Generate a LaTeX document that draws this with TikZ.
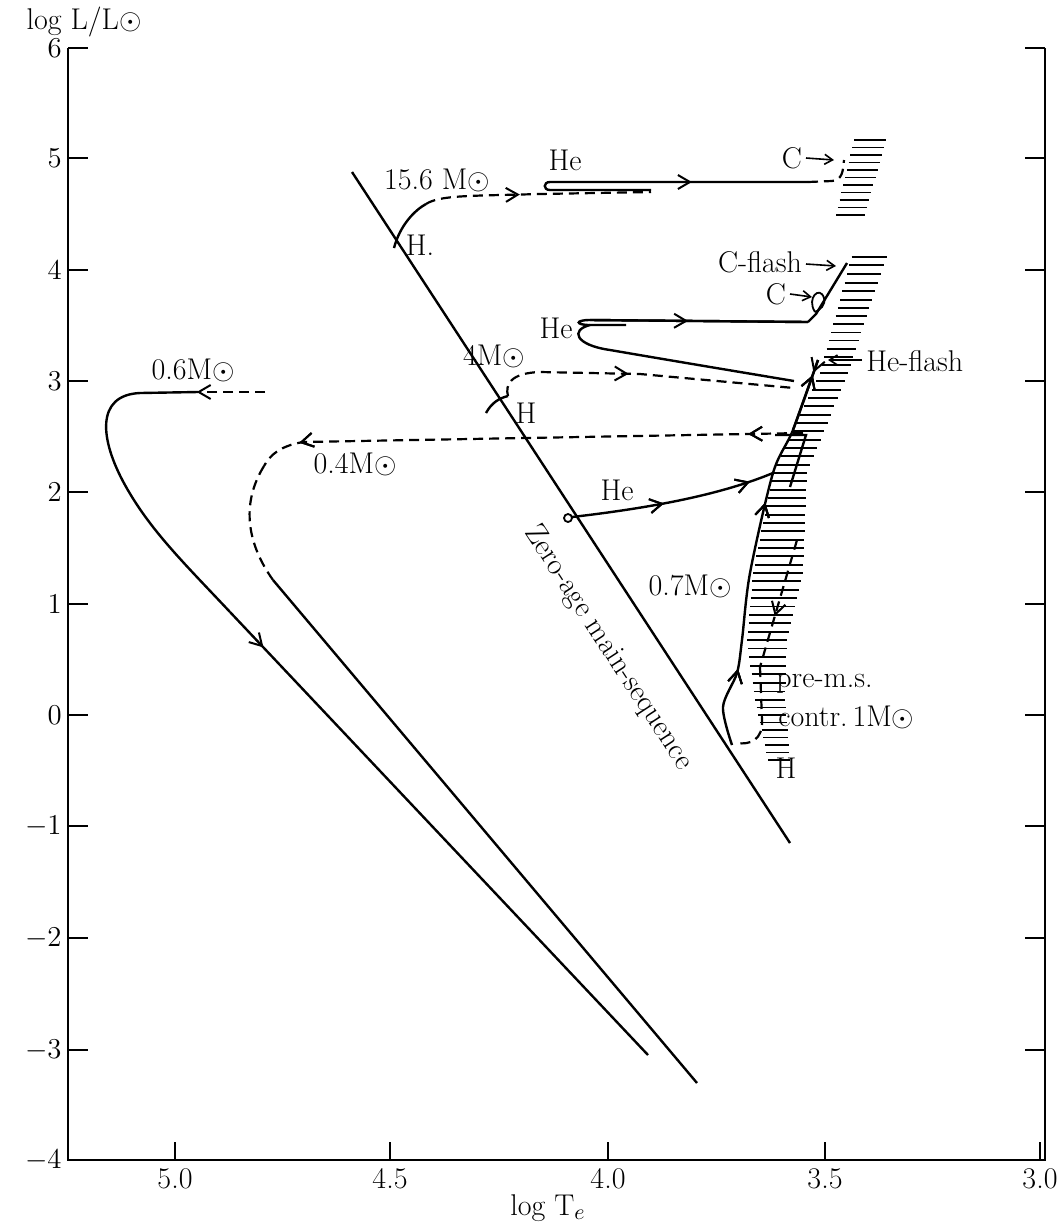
\documentclass[tikz,border=0pt]{standalone}
\usetikzlibrary{arrows.meta,decorations.markings}
\begin{document}
\begin{tikzpicture}[x=0.5pt,y=-0.5pt,
  trk/.style={line width=1.2pt},
  dsh/.style={line width=1.1pt,dash pattern=on 5pt off 3pt},
  hat/.style={line width=0.9pt},
  marrow/.style={postaction={decorate},decoration={markings,mark=at position #1 with {\arrow{Straight Barb[length=6pt,width=7pt,line width=1pt]}}}},
  lbl/.style={font=\fontsize{15}{17}\selectfont,inner sep=1pt},
  tck/.style={font=\fontsize{15}{17}\selectfont,inner sep=1pt}]
\useasboundingbox (0,0) rectangle (1063,1228);
% axes
\draw[line width=1pt] (68,48) -- (68,1160) -- (1045,1160) -- (1045,48);
\foreach \v/\y in {6/48,5/158,4/270,3/381,2/492,1/604,0/715,-1/826,-2/938,-3/1050,-4/1160}{
  \draw[line width=0.9pt] (68,\y) -- (88,\y);
  \draw[line width=0.9pt] (1045,\y) -- (1025,\y);
  \node[tck,anchor=east] (ty\y) at (64,\y) {$\v$};
}
\foreach \v/\x in {5.0/175,4.5/390,4.0/608,3.5/825,3.0/1040}{
  \draw[line width=0.9pt] (\x,1160) -- (\x,1142);
  \node[tck,anchor=north] (tx\x) at (\x,1166) {\v};
}
\node[lbl] (ylab) at (84,22) {log L/L$\odot$};
\node[lbl] (xlab) at (548,1208) {log T$_e$};
% ZAMS
\draw[trk] (352,172) -- (790,843);
\node[lbl,rotate=-56.9] (zams) at (608,648) {Zero-age main-sequence};
% 0.6 Msun
\node[lbl] (m06) at (193,370) {0.6M$\odot$};
\draw[dsh,marrow=0.99] (265,392) -- (196,392);
\draw[trk] (198,392) -- (140,393) .. controls (95,395) and (100,440) .. (125,485) .. controls (150,530) and (183,562) .. (230,612);
\draw[trk,marrow=0.08] (230,612) -- (648,1055);
% 0.4 Msun
\node[lbl] (m04) at (355,464) {0.4M$\odot$};
\draw[dsh,marrow=0.1,marrow=0.92] (803,433) -- (303,442) .. controls (280,446) and (270,455) .. (264,466);
\draw[dsh] (264,466) .. controls (240,505) and (248,545) .. (273,580);
\draw[trk] (273,580) -- (697,1083);
\draw[trk] (775,435) -- (806,435) -- (790,487);
% 15.6 Msun
\node[lbl] (m156) at (437,180) {15.6 M$\odot$};
\node[lbl] (h156) at (420,245) {H.};
\draw[trk] (394,248) .. controls (400,225) and (415,210) .. (426,204);
\draw[dsh,marrow=0.42] (426,204) .. controls (440,195) and (470,196) .. (540,194) -- (651,192);
\node[lbl] (he156) at (565,160) {He};
\draw[trk] (651,190) -- (550,190) .. controls (543,190) and (543,182) .. (550,182) -- (808,182);
\draw[trk,marrow=0.55] (550,182) -- (808,182);
\draw[dsh] (808,182) -- (832,181) .. controls (842,180) and (843,172) .. (844,160);
\node[lbl] (c156) at (792,158) {C};
\draw[line width=0.8pt,-{Straight Barb[length=4pt,width=5pt]}] (806,158) -- (834,160);
% 4 Msun
\node[lbl] (m4) at (494,356) {4M$\odot$};
\node[lbl] (h4) at (526,413) {H};
\draw[trk] (486,413) .. controls (492,402) and (500,398) .. (508,396);
\draw[dsh,marrow=0.45] (508,396) .. controls (505,385) and (510,373) .. (540,372) -- (640,374) -- (794,388);
\node[lbl] (he4) at (556,328) {He};
\draw[trk] (626,325) -- (590,325) .. controls (575,325) and (575,320) .. (590,320) -- (808,322);
\draw[trk,marrow=0.45] (590,320) -- (808,322);
\draw[trk] (590,325) .. controls (570,330) and (575,345) .. (610,350) .. controls (680,362) and (740,372) .. (794,381);
\draw[trk] (808,322) -- (816,314) -- (847,263);
\draw[line width=0.9pt] (815,312) .. controls (806,298) and (820,285) .. (824,298) .. controls (826,305) and (820,310) .. (815,312);
\node[lbl] (c4) at (776,294) {C};
\draw[line width=0.8pt,-{Straight Barb[length=4pt,width=5pt]}] (790,294) -- (812,297);
\node[lbl] (cflash) at (760,262) {C-flash};
\draw[line width=0.8pt,-{Straight Barb[length=4pt,width=5pt]}] (806,264) -- (836,266);
\node[lbl,anchor=west] (heflash) at (864,361) {He-flash};
\draw[line width=0.8pt,-{Straight Barb[length=4pt,width=5pt]}] (862,360) -- (828,360);
% 0.7 Msun
\node[lbl] (m07) at (690,586) {0.7M$\odot$};
\draw[trk,marrow=0.2,marrow=0.62,marrow=0.96] plot[smooth,tension=0.5] coordinates {(732,745) (723,707) (737,673) (742,640) (750,573) (773,473) (793,430) (818,360)};
\draw[trk,marrow=0.18] (818,360) -- (793,430);
\node[lbl] (he07) at (617,490) {He};
\draw[line width=0.9pt] (568,518) circle (4);
\draw[trk,marrow=0.45,marrow=0.88] (572,517) .. controls (650,508) and (720,495) .. (773,473);
% pre-ms 1 Msun
\draw[dsh,marrow=0.6] (797,540) -- (760,667);
\draw[dsh] (760,667) -- (762,720) .. controls (763,740) and (750,745) .. (737,743);
\node[lbl,anchor=west] (pms) at (774,684) {pre-m.s.};
\node[lbl,anchor=west] (contr) at (776,717) {contr.\,1M$\odot$};
\node[lbl] (h07) at (786,768) {H};
% hatching
\foreach \k in {0,...,10}{
  \draw[hat] ({854-1.8*\k},{140+7.5*\k}) -- ({886-2.1*\k},{140+7.5*\k});
}
\foreach \ya/\yb/\aa/\ab/\ba/\bb/\n in {248/300/854/840/890/872/6, 300/373/840/820/872/848/9, 373/473/820/773/848/807/12, 473/573/773/753/807/803/12, 573/640/753/747/803/787/8, 640/700/747/755/787/785/7, 700/760/755/768/785/790/8}{
  \foreach \k in {1,...,\n}{
    \pgfmathsetmacro\t{\k/\n}
    \draw[hat] ({\aa+(\ab-\aa)*\t},{\ya+(\yb-\ya)*\t}) -- ({\ba+(\bb-\ba)*\t},{\ya+(\yb-\ya)*\t});
  }
}
\end{tikzpicture}
\end{document}
